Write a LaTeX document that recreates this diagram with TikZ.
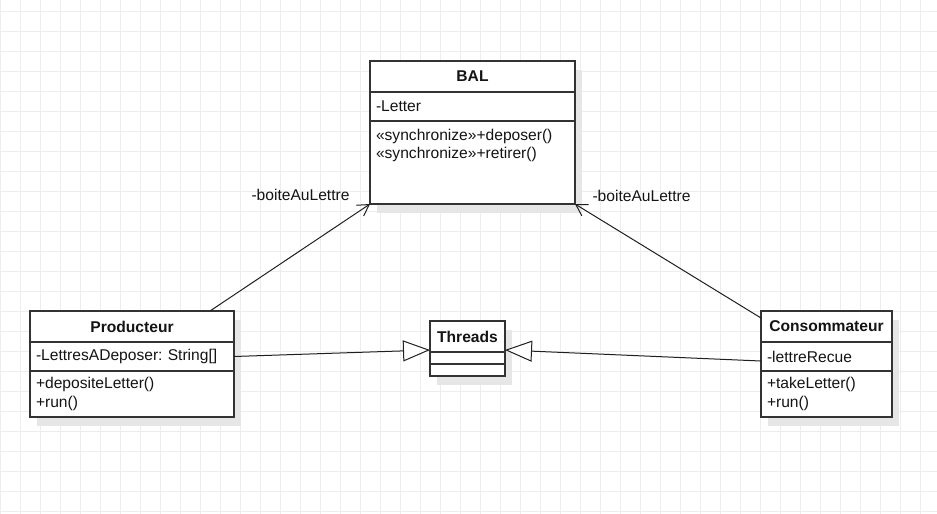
\documentclass[tikz,border=0pt]{standalone}
\usepackage{fontspec}
\setmainfont{Liberation Sans}
\usetikzlibrary{arrows.meta,positioning,shadows}
\definecolor{gridgray}{HTML}{EDEDED}
\definecolor{shadowgray}{HTML}{E6E6E6}
\definecolor{linegray}{HTML}{333333}
\frenchspacing

\begin{document}
\begin{tikzpicture}[x=1pt,y=-1pt,
	font=\fontsize{15.6}{18.5}\selectfont,text=black!92,
	classbox/.style={draw=linegray,line width=1.2pt,fill=white,outer sep=0pt,inner ysep=0pt,
		drop shadow={shadow xshift=7pt,shadow yshift=-9pt,fill=shadowgray,opacity=1}},
	classhead/.style={classbox,font=\fontsize{15.6}{18.5}\selectfont\bfseries,minimum height=31pt,minimum width=#1,inner xsep=0pt},
	classpart/.style={classbox,align=left,text width=#1,inner xsep=6pt},
	classempty/.style={classbox,minimum width=#1,minimum height=12pt,inner sep=0pt},
	assoc/.style={-{Straight Barb[length=11pt,width=13pt]},line width=1pt,draw=black!88},
	inherit/.style={-{Triangle[length=27pt,width=21pt,fill=white]},line width=1pt,draw=black!88},
	gridline/.style={draw=gridgray,line width=0.8pt}]

	\useasboundingbox (0,0) rectangle (937,514);
	\fill[white] (0,0) rectangle (937,514);
	\begin{scope}
		\clip (0,0) rectangle (937,514);
		\draw[gridline,yshift=-11pt] (-20,-20) grid[step=20pt] (960,540);
	\end{scope}

	% BAL
	\node	[classhead=205pt]								(balH)	at (472.5,76.5)	{BAL};
	\node	[classpart=193pt,minimum height=29pt,below=0pt of balH]	(balA)	{-Letter};
	\node	[classpart=193pt,minimum height=83pt,below=0pt of balA]	(balM)	{«synchronize»+deposer()\\«synchronize»+retirer()\\~\\~};

	% Producteur
	\node	[classhead=204pt]								(prodH)	at (132,326.5)	{Producteur};
	\node	[classpart=192pt,minimum height=29pt,below=0pt of prodH]	(prodA)	{-LettresADeposer: String[]};
	\node	[classpart=192pt,minimum height=46pt,below=0pt of prodA]	(prodM)	{+depositeLetter()\\+run()};

	% Threads
	\node	[classhead=75pt]								(thrH)	at (467.5,336.5)	{Threads};
	\node	[classempty=75pt,below=0pt of thrH]				(thrA)	{};
	\node	[classempty=75pt,below=0pt of thrA]				(thrM)	{};

	% Consommateur
	\node	[classhead=131pt]								(conH)	at (826.5,326.5)	{Consommateur};
	\node	[classpart=119pt,minimum height=29pt,below=0pt of conH]	(conA)	{-lettreRecue};
	\node	[classpart=119pt,minimum height=46pt,below=0pt of conA]	(conM)	{+takeLetter()\\+run()};

	% associations
	\draw[assoc] ([xshift=-24pt]prodH.north east) -- (balM.south west)
		node[anchor=east,xshift=-20pt,yshift=9pt,inner sep=0pt] {-boiteAuLettre};
	\draw[assoc] ([yshift=-7pt]conH.north west) -- (balM.south east)
		node[anchor=west,xshift=17pt,yshift=8pt,inner sep=0pt] {-boiteAuLettre};

	% generalisations
	\draw[inherit] (prodA.east) -- ([yshift=2pt]thrH.south west);
	\draw[inherit] ([yshift=-4.5pt]conA.west) -- ([yshift=2pt]thrH.south east);
\end{tikzpicture}
\end{document}
